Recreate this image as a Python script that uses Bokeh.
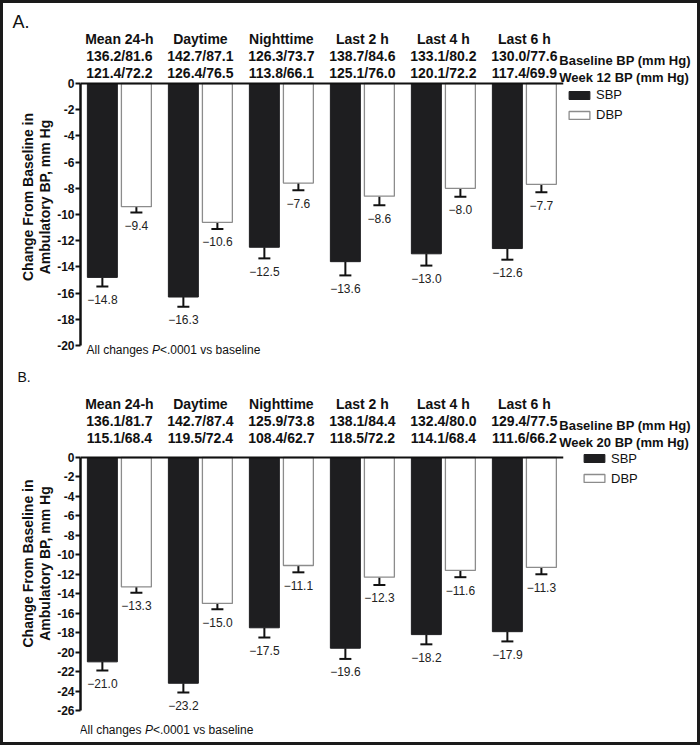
from bokeh.plotting import figure
from bokeh.models import (ColumnDataSource, Range1d, FixedTicker, Whisker, TeeHead,
                          LabelSet, Label, Legend, LegendItem)
from bokeh.core.properties import value
from bokeh.layouts import column
from bokeh.embed import file_html
from bokeh.resources import INLINE

# ---------------- data ----------------
periods = ["Mean 24-h", "Daytime", "Nighttime", "Last 2 h", "Last 4 h", "Last 6 h"]

a_baseline = ["136.2/81.6", "142.7/87.1", "126.3/73.7", "138.7/84.6", "133.1/80.2", "130.0/77.6"]
a_followup = ["121.4/72.2", "126.4/76.5", "113.8/66.1", "125.1/76.0", "120.1/72.2", "117.4/69.9"]
a_sbp = [-14.8, -16.3, -12.5, -13.6, -13.0, -12.6]
a_sbp_err = [0.7, 0.75, 0.85, 1.05, 0.9, 0.85]
a_dbp = [-9.4, -10.6, -7.6, -8.6, -8.0, -7.7]
a_dbp_err = [0.45, 0.5, 0.55, 0.7, 0.65, 0.6]

b_baseline = ["136.1/81.7", "142.7/87.4", "125.9/73.8", "138.1/84.4", "132.4/80.0", "129.4/77.5"]
b_followup = ["115.1/68.4", "119.5/72.4", "108.4/62.7", "118.5/72.2", "114.1/68.4", "111.6/66.2"]
b_sbp = [-21.0, -23.2, -17.5, -19.6, -18.2, -17.9]
b_sbp_err = [0.9, 0.95, 1.0, 1.1, 1.0, 1.0]
b_dbp = [-13.3, -15.0, -11.1, -12.3, -11.6, -11.3]
b_dbp_err = [0.6, 0.6, 0.7, 0.8, 0.7, 0.7]

FONT = "Liberation Sans"
DARK = "#1e1e20"
TXT = "#111111"
PX_PER_GROUP = 81.0
LEFT = 77
FIG_W = 694
FRAME_W = FIG_W - LEFT


def fmt(v):
    return "\u2212%.1f" % abs(v)


def make_panel(tag, tag_size, tag_off, baseline, followup, follow_name,
               sbp, sbp_err, dbp, dbp_err, ymin, ppu, zero_y, frame_top, height,
               head_offsets, leg_top, leg_x, note_dx, note_dy):
    n = len(periods)
    xs = list(range(n))
    x0 = -0.48
    x_last = n - 0.52
    fh = height - frame_top
    y_end = (zero_y - frame_top) / ppu
    y_start = -(height - zero_y) / ppu
    p = figure(frame_width=FRAME_W, frame_height=fh,
               min_border_left=LEFT, min_border_right=0,
               min_border_top=frame_top, min_border_bottom=0,
               x_range=Range1d(x0, x0 + FRAME_W / PX_PER_GROUP),
               y_range=Range1d(y_start, y_end),
               x_axis_location=None, output_backend="svg", toolbar_location=None,
               background_fill_color="white", border_fill_color="white",
               outline_line_color=None)
    p.xgrid.grid_line_color = None
    p.ygrid.grid_line_color = None

    p.title.text = tag
    p.title.align = "left"
    p.title.offset = tag_off
    p.title.standoff = 0
    p.title.text_font = FONT
    p.title.text_font_style = "normal"
    p.title.text_font_size = tag_size
    p.title.text_color = TXT

    ya = p.yaxis[0]
    ticks = list(range(0, ymin - 1, -2))
    ya.ticker = FixedTicker(ticks=ticks)
    ya.bounds = (ymin, 0)
    ya.major_label_overrides = {t: str(t) for t in ticks}
    ya.minor_tick_line_color = None
    ya.axis_line_width = 2.5
    ya.axis_line_color = TXT
    ya.major_tick_line_width = 2
    ya.major_tick_line_color = TXT
    ya.major_tick_out = 5
    ya.major_tick_in = 0
    ya.major_label_standoff = 1
    ya.major_label_text_font = FONT
    ya.major_label_text_font_style = "bold"
    ya.major_label_text_font_size = "12px"
    ya.major_label_text_color = TXT
    ya.axis_label = "Change From Baseline in\nAmbulatory BP, mm Hg"
    ya.axis_label_text_font = FONT
    ya.axis_label_text_font_style = "bold"
    ya.axis_label_text_font_size = "14px"
    ya.axis_label_text_line_height = 1.05
    ya.axis_label_text_color = TXT
    ya.axis_label_standoff = 1

    xs_s = [x - 0.21 for x in xs]
    xs_d = [x + 0.21 for x in xs]
    src_s = ColumnDataSource(dict(x=xs_s, top=[0] * n, val=sbp,
                                  low=[v - e for v, e in zip(sbp, sbp_err)],
                                  lab=[fmt(v) for v in sbp]))
    src_d = ColumnDataSource(dict(x=xs_d, top=[0] * n, val=dbp,
                                  low=[v - e for v, e in zip(dbp, dbp_err)],
                                  lab=[fmt(v) for v in dbp]))

    rs = p.vbar(x="x", top="top", bottom="val", width=0.37, source=src_s,
                fill_color=DARK, line_color=DARK, line_width=1)
    rd = p.vbar(x="x", top="top", bottom="val", width=0.37, source=src_d,
                fill_color="white", line_color="#8c8c8c", line_width=1.3)

    # zero baseline across the groups
    p.segment(x0=[x0], x1=[x_last], y0=[0], y1=[0], line_color=TXT, line_width=2)

    for src in (src_s, src_d):
        w = Whisker(base="x", upper="val", lower="low", source=src, dimension="height",
                    line_color=TXT, line_width=2, upper_head=None,
                    lower_head=TeeHead(size=12, line_color=TXT, line_width=2))
        p.add_layout(w)
        p.add_layout(LabelSet(x="x", y="low", text="lab", source=src, y_offset=-17.5,
                              text_align="center", text_baseline="alphabetic",
                              text_font=value(FONT), text_font_size="12px",
                              text_color="#222222"))

    # header rows
    hsrc = ColumnDataSource(dict(x=xs, name=periods, base=baseline, fol=followup))
    for col, off in zip(("name", "base", "fol"), head_offsets):
        p.add_layout(LabelSet(x="x", y=0, text=col, source=hsrc, y_offset=off,
                              text_align="center", text_baseline="alphabetic",
                              text_font=value(FONT), text_font_style="bold",
                              text_font_size="14px", text_color=TXT))
    for txt, off in (("Baseline BP (mm Hg)", head_offsets[1]), (follow_name, head_offsets[2])):
        p.add_layout(Label(x=x_last, y=0, x_offset=-4, y_offset=off, text=txt,
                           text_align="left", text_baseline="alphabetic",
                           text_font=FONT, text_font_style="bold",
                           text_font_size="13px", text_color=TXT))

    # footnote
    parts = [("All changes ", "normal", 0), ("P", "italic", 65.4), ("<.0001 vs baseline", "normal", 73.4)]
    for t, st, dx in parts:
        p.add_layout(Label(x=x0, y=ymin, x_offset=note_dx + dx, y_offset=note_dy, text=t,
                           text_baseline="alphabetic", text_font=FONT, text_font_style=st,
                           text_font_size="12px", text_color=TXT))

    leg_h = 36
    leg = Legend(items=[LegendItem(label="SBP", renderers=[rs]),
                        LegendItem(label="DBP", renderers=[rd])],
                 location=(leg_x, height - leg_top - leg_h), orientation="vertical",
                 glyph_width=26, glyph_height=10, label_standoff=4, spacing=4,
                 padding=0, margin=0, border_line_color=None, background_fill_alpha=0,
                 label_text_font=FONT, label_text_font_size="13px",
                 label_text_color=TXT, label_height=16)
    p.add_layout(leg)
    return p


pA = make_panel("A.", "18px", -68, a_baseline, a_followup, "Week 12 BP (mm Hg)",
                a_sbp, a_sbp_err, a_dbp, a_dbp_err, -20, 13.1, 80, 28, 359,
                (40, 23, 6), 83.7, 486, 6, -4.5)
pB = make_panel("B.", "14px", -63, b_baseline, b_followup, "Week 20 BP (mm Hg)",
                b_sbp, b_sbp_err, b_dbp, b_dbp_err, -26, 253 / 26, 95, 22, 380,
                (49, 32, 15), 88, 501, -1, -19.5)

layout = column(pA, pB, spacing=0,
                styles={"border": "3px solid #1a1a1a", "background": "white"})

open("out.html", "w").write(file_html(layout, INLINE))
